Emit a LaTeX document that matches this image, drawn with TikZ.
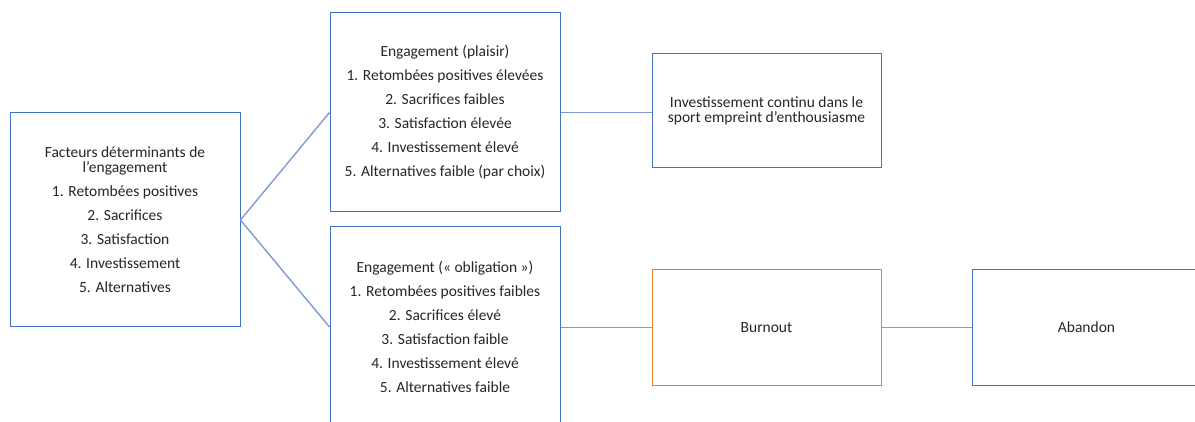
\documentclass[tikz,border=0pt]{standalone}
\usepackage{fontspec}
\setmainfont{Carlito}
\definecolor{boxblue}{HTML}{4472C4}
\definecolor{linkblue}{HTML}{7F9BD3}
\definecolor{burnorange}{HTML}{ED7D31}
\definecolor{txt}{HTML}{262626}
\tikzset{
  box/.style={draw=boxblue, line width=1pt, fill=white, align=center,
    text=txt, font=\fontsize{15.5}{15}\selectfont, inner sep=0pt},
  warnbox/.style={box, draw=burnorange},
  link/.style={draw=linkblue, line width=1.4pt},
}
\newcommand{\gap}{\\[9pt]}
\begin{document}
\begin{tikzpicture}[x=1pt, y=-1pt]
  \useasboundingbox[fill=white] (0,0) rectangle (1195,422);
  \clip (0,0) rectangle (1195,422);

  % determinants of commitment
  \node[box, minimum width=230pt, minimum height=214pt] (det) at (125,220)
    {Facteurs déterminants de\\l’engagement\gap
     1. Retombées positives\gap 2. Sacrifices\gap 3. Satisfaction\gap
     4. Investissement\gap 5. Alternatives};

  % enthusiastic commitment
  \node[box, minimum width=230pt, minimum height=199pt] (plaisir) at (445,112.5)
    {Engagement (plaisir)\gap 1. Retombées positives élevées\gap
     2. Sacrifices faibles\gap 3. Satisfaction élevée\gap
     4. Investissement élevé\gap 5. Alternatives faible (par choix)};

  % obligation commitment
  \node[box, minimum width=230pt, minimum height=200pt] (oblig) at (445,327)
    {Engagement (« obligation »)\gap 1. Retombées positives faibles\gap
     2. Sacrifices élevé\gap 3. Satisfaction faible\gap
     4. Investissement élevé\gap 5. Alternatives faible};

  % outcomes
  \node[box, minimum width=229pt, minimum height=114pt] (continu) at (766.5,111)
    {Investissement continu dans le\\sport empreint d’enthousiasme};
  \node[warnbox, minimum width=229pt, minimum height=115pt] (burnout) at (766.5,327.5)
    {Burnout};
  \node[box, minimum width=229pt, minimum height=115pt] (abandon) at (1086.5,327.5)
    {Abandon};

  % connectors
  \draw[link] (det.east) -- (plaisir.west);
  \draw[link] (det.east) -- (oblig.west);
  \draw[link] (plaisir.east) -- (plaisir.east -| continu.west);
  \draw[link] (burnout.west -| oblig.east) -- (burnout.west);
  \draw[link] (burnout.east) -- (abandon.west);
\end{tikzpicture}
\end{document}
